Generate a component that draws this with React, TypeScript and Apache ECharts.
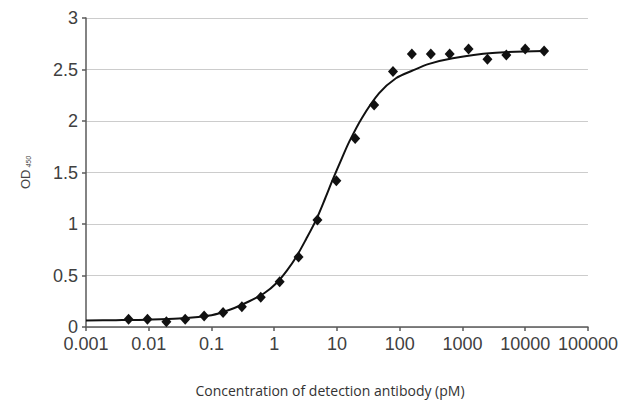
import React, { useEffect, useRef } from "react";
import * as echarts from "echarts";

const concentrations = [0.00477, 0.00954, 0.0191, 0.0381, 0.0763, 0.153, 0.305, 0.61, 1.22, 2.44, 4.88, 9.77, 19.5, 39.1, 78.1, 156, 313, 625, 1250, 2500, 5000, 10000, 20000];
const odValues = [0.075, 0.075, 0.05, 0.075, 0.107, 0.14, 0.197, 0.29, 0.44, 0.68, 1.04, 1.42, 1.83, 2.155, 2.48, 2.65, 2.65, 2.65, 2.7, 2.6, 2.64, 2.7, 2.68];

const curveX = [0.001, 0.003, 0.01, 0.03, 0.1, 0.2, 0.4, 0.7, 1.1, 1.6, 2.24, 3.2, 4.65, 6.5, 8.55, 12, 15.7, 25, 47, 87, 160, 294, 700, 3000, 20000];
const curveY = [0.063, 0.066, 0.071, 0.082, 0.115, 0.17, 0.25, 0.33, 0.43, 0.55, 0.68, 0.85, 1.04, 1.25, 1.43, 1.64, 1.8, 2.03, 2.27, 2.415, 2.49, 2.555, 2.61, 2.66, 2.68];

const xTickLabels = ["0.001", "0.01", "0.1", "1", "10", "100", "1000", "10000", "100000"];
const yTickLabels = ["0", "0.5", "1", "1.5", "2", "2.5", "3"];

export default function App() {
  const ref = useRef<HTMLDivElement>(null);
  useEffect(() => {
    if (!ref.current) return;
    const chart = echarts.init(ref.current, null, { renderer: "svg" });
    const axisColor = "#5a5a5a";
    const labelStyle = { fontSize: 18, lineHeight: 14, color: "#404040", fontFamily: "Liberation Sans, Arial, sans-serif" };
    chart.setOption({
      animation: false,
      backgroundColor: "#ffffff",
      grid: { left: 86, right: 32, top: 18, bottom: 76, containLabel: false },
      xAxis: {
        type: "log",
        logBase: 10,
        min: 0.001,
        max: 100000,
        splitNumber: 8,
        axisLine: { show: true, lineStyle: { color: axisColor, width: 1.5 } },
        axisTick: { show: true, length: 4, lineStyle: { color: axisColor, width: 1.5 } },
        minorTick: { show: false },
        splitLine: { show: false },
        axisLabel: {
          ...labelStyle,
          margin: 10,
          formatter: (v: number) => xTickLabels[Math.round(Math.log10(v)) + 3] ?? "",
        },
        name: "Concentration of detection antibody (pM)",
        nameLocation: "middle",
        nameGap: 56,
        nameTextStyle: { fontSize: 14, color: "#333333", fontFamily: "Open Sans, sans-serif", padding: [0, 14, 0, 0] },
      },
      yAxis: {
        type: "value",
        min: 0,
        max: 3,
        interval: 0.5,
        axisLine: { show: true, lineStyle: { color: axisColor, width: 1.5 } },
        axisTick: { show: true, length: 4, lineStyle: { color: axisColor, width: 1.5 } },
        splitLine: { show: true, lineStyle: { color: "#cccccc", width: 1 } },
        axisLabel: {
          ...labelStyle,
          margin: 8,
          formatter: (v: number) => yTickLabels[Math.round(v * 2)] ?? "",
        },
        name: "{a|OD}{b| 450}",
        nameLocation: "middle",
        nameGap: 54,
        nameRotate: 90,
        nameTextStyle: {
          rich: {
            a: { fontSize: 13, color: "#444444", fontFamily: "Liberation Sans, Arial, sans-serif" },
            b: { fontSize: 7, color: "#444444", fontStyle: "italic", fontFamily: "Liberation Sans, Arial, sans-serif", padding: [5, 0, 0, 0] },
          },
        },
      },
      series: [
        {
          type: "line",
          data: curveX.map((x, i) => [x, curveY[i]]),
          showSymbol: false,
          smooth: 0.3,
          lineStyle: { color: "#111111", width: 2 },
          z: 2,
        },
        {
          type: "scatter",
          data: concentrations.map((x, i) => [x, odValues[i]]),
          symbol: "diamond",
          symbolSize: [10, 11],
          itemStyle: { color: "#111111", opacity: 1 },
          z: 3,
        },
      ],
    });
    return () => chart.dispose();
  }, []);
  return (
    <div
      ref={ref}
      style={{ position: "fixed", left: 0, top: 0, width: 621, height: 403, background: "#ffffff" }}
    />
  );
}
